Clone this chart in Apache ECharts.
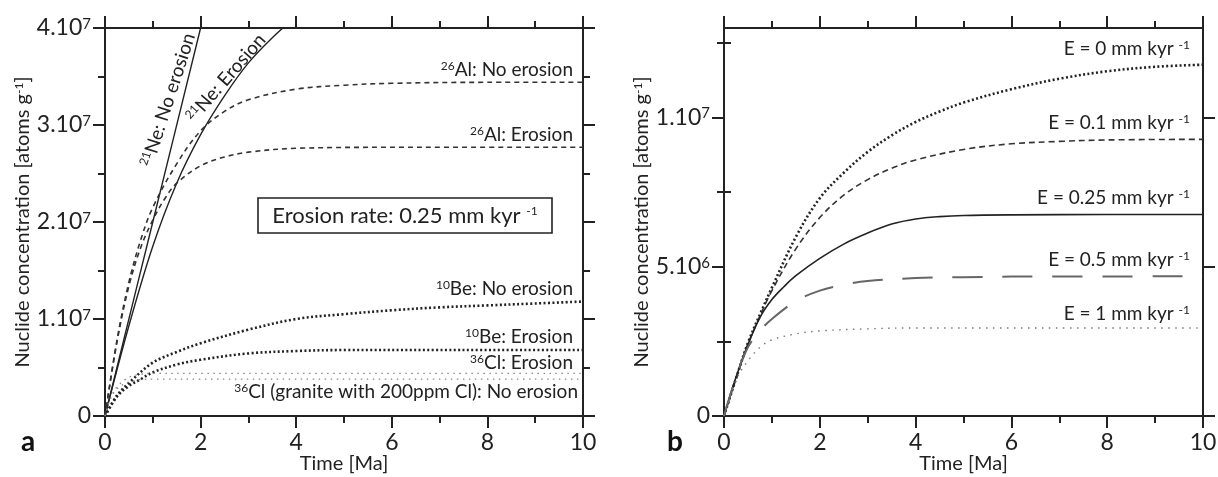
<!DOCTYPE html>
<html>
<head>
<meta charset="utf-8">
<script src="https://cdn.jsdelivr.net/npm/echarts@6/dist/echarts.min.js"></script>
<style>
  html, body { margin: 0; padding: 0; background: #fff; }
  #chart { width: 1218px; height: 477px; }
</style>
</head>
<body>
<div id="chart"></div>
<script>
// panel a: [time Ma, atoms/g]
const ne21NoErosion = [[0, 0], [1, 2.0e7], [2, 4.0e7]];
const ne21Erosion = [[0, 0], [0.5, 0.93e7], [1, 1.75e7], [1.5, 2.4e7], [2, 2.9e7], [2.5, 3.3e7], [3, 3.64e7], [3.5, 3.9e7], [4, 4.12e7]];
const al26NoErosion = [[0, 0], [0.25, 0.78e7], [0.5, 1.38e7], [0.75, 1.82e7], [1, 2.15e7], [1.5, 2.6e7], [2, 2.94e7], [2.5, 3.14e7], [3, 3.26e7], [4, 3.37e7], [5, 3.41e7], [6, 3.43e7], [8, 3.44e7], [10, 3.44e7]];
const al26Erosion = [[0, 0], [0.25, 0.76e7], [0.5, 1.34e7], [0.75, 1.74e7], [1, 2.02e7], [1.25, 2.24e7], [1.5, 2.4e7], [2, 2.58e7], [2.5, 2.67e7], [3, 2.72e7], [4, 2.76e7], [6, 2.77e7], [10, 2.77e7]];
const be10NoErosion = [[0, 0], [0.25, 0.21e7], [0.5, 0.34e7], [1, 0.55e7], [1.5, 0.66e7], [2, 0.75e7], [3, 0.89e7], [4, 1.0e7], [5, 1.05e7], [6, 1.09e7], [7, 1.12e7], [8, 1.14e7], [9, 1.16e7], [10, 1.18e7]];
const be10Erosion = [[0, 0], [0.25, 0.2e7], [0.5, 0.31e7], [0.75, 0.38e7], [1, 0.45e7], [1.5, 0.53e7], [2, 0.58e7], [3, 0.645e7], [4, 0.67e7], [5, 0.68e7], [7, 0.68e7], [10, 0.68e7]];
const cl36Erosion = [[0, 0], [0.1, 0.17e7], [0.25, 0.3e7], [0.5, 0.4e7], [0.75, 0.43e7], [1, 0.44e7], [2, 0.44e7], [4, 0.44e7], [10, 0.44e7]];
const cl36NoErosion = [[0, 0], [0.1, 0.16e7], [0.25, 0.28e7], [0.5, 0.35e7], [0.75, 0.375e7], [1, 0.38e7], [2, 0.38e7], [4, 0.38e7], [10, 0.38e7]];

// panel b: 10Be for several erosion rates
const erosion0 = [[0, 0], [0.25, 1.25e6], [0.5, 2.45e6], [0.75, 3.4e6], [1, 4.3e6], [1.5, 6.0e6], [2, 7.3e6], [2.5, 8.15e6], [3, 8.85e6], [3.5, 9.4e6], [4, 9.85e6], [4.5, 10.2e6], [5, 10.5e6], [6, 10.95e6], [7, 11.3e6], [8, 11.55e6], [9, 11.7e6], [10, 11.77e6]];
const erosion01 = [[0, 0], [0.25, 1.24e6], [0.5, 2.4e6], [0.75, 3.35e6], [1, 4.2e6], [1.5, 5.6e6], [2, 6.65e6], [2.5, 7.4e6], [3, 7.92e6], [3.5, 8.3e6], [4, 8.58e6], [5, 8.93e6], [6, 9.12e6], [7, 9.2e6], [8, 9.25e6], [10, 9.27e6]];
const erosion025 = [[0, 0], [0.25, 1.3e6], [0.5, 2.4e6], [0.75, 3.3e6], [1, 3.9e6], [1.25, 4.33e6], [1.5, 4.7e6], [2, 5.28e6], [2.5, 5.76e6], [3, 6.13e6], [3.5, 6.43e6], [4, 6.6e6], [4.5, 6.68e6], [5, 6.72e6], [6, 6.74e6], [8, 6.75e6], [10, 6.75e6]];
const erosion05 = [[0, 0], [0.25, 1.3e6], [0.5, 2.3e6], [0.75, 2.85e6], [1, 3.25e6], [1.5, 3.85e6], [2, 4.2e6], [2.5, 4.4e6], [3, 4.52e6], [4, 4.62e6], [5, 4.65e6], [6, 4.67e6], [10, 4.68e6]];
const erosion1 = [[0, 0], [0.25, 1.2e6], [0.5, 1.85e6], [0.75, 2.3e6], [1, 2.55e6], [1.5, 2.75e6], [2, 2.85e6], [3, 2.92e6], [4, 2.95e6], [6, 2.95e6], [10, 2.95e6]];

const yLabelsB = [0, 5e6, 1e7];
const yMinorB = [2.5e6, 7.5e6, 1.25e7];

const FONT = 'Lato, "Open Sans", sans-serif';
const INK = '#222';
const sup = { fontSize: 12, verticalAlign: 'top', fontFamily: FONT, color: INK };

function powLabel(v) {
  if (v === 0) return '0';
  const exp = Math.floor(Math.log10(v));
  const mant = Math.round(v / Math.pow(10, exp));
  return mant + '.10{s|' + exp + '}';
}

const axisLine = { onZero: false, lineStyle: { color: INK, width: 2 } };
const majorTick = { length: 12, lineStyle: { color: INK, width: 2 } };
const minorTick = { show: true, splitNumber: 2, length: 7, lineStyle: { color: INK, width: 2 } };

function xAxes(gridIndex) {
  const base = {
    type: 'value', gridIndex, min: 0, max: 10, interval: 2,
    axisLine, axisTick: majorTick, minorTick, splitLine: { show: false }
  };
  return [
    Object.assign({}, base, {
      position: 'bottom',
      axisLabel: { fontSize: 23, color: INK, fontFamily: FONT, margin: 15 },
      name: 'Time [Ma]', nameLocation: 'middle', nameGap: 38, nameMoveOverlap: false,
      nameTextStyle: { fontSize: 20, color: INK, fontFamily: FONT }
    }),
    Object.assign({}, base, { position: 'top', axisLabel: { show: false } })
  ];
}

const yName = {
  name: 'Nuclide concentration [atoms g{s|-1}]', nameLocation: 'middle',
  nameTextStyle: { fontSize: 20, color: INK, fontFamily: FONT, rich: { s: sup } }
};
const yLabelStyle = {
  fontSize: 23, color: INK, fontFamily: FONT, margin: 14,
  formatter: powLabel, rich: { s: { fontSize: 15, verticalAlign: 'top', fontFamily: FONT, color: INK } }
};

const yAxes = [
  // panel a
  Object.assign({
    type: 'value', gridIndex: 0, position: 'left', min: 0, max: 4e7, interval: 1e7,
    axisLine, axisTick: majorTick, minorTick, splitLine: { show: false },
    axisLabel: yLabelStyle, nameGap: 72
  }, yName),
  {
    type: 'value', gridIndex: 0, position: 'right', min: 0, max: 4e7, interval: 1e7,
    axisLine, axisTick: majorTick, minorTick, splitLine: { show: false }, axisLabel: { show: false }
  },
  // panel b
  Object.assign({
    type: 'value', gridIndex: 1, position: 'left', min: 0, max: 1.3e7,
    axisLine, splitLine: { show: false },
    axisTick: Object.assign({ customValues: yLabelsB }, majorTick),
    axisLabel: Object.assign({ customValues: yLabelsB }, yLabelStyle), nameGap: 66
  }, yName),
  {
    type: 'value', gridIndex: 1, position: 'left', min: 0, max: 1.3e7,
    axisLine: { show: false }, splitLine: { show: false }, axisLabel: { show: false },
    axisTick: { customValues: yMinorB, length: 7, lineStyle: { color: INK, width: 2 } }
  },
  {
    type: 'value', gridIndex: 1, position: 'right', min: 0, max: 1.3e7,
    axisLine, splitLine: { show: false }, axisLabel: { show: false },
    axisTick: Object.assign({ customValues: yLabelsB }, majorTick)
  },
  {
    type: 'value', gridIndex: 1, position: 'right', min: 0, max: 1.3e7,
    axisLine: { show: false }, splitLine: { show: false }, axisLabel: { show: false },
    axisTick: { customValues: yMinorB, length: 7, lineStyle: { color: INK, width: 2 } }
  }
];

function curve(data, xi, yi, style) {
  return {
    type: 'line', data, xAxisIndex: xi, yAxisIndex: yi,
    showSymbol: false, symbol: 'none', smooth: 0.35,
    silent: true, lineStyle: Object.assign({ color: INK, width: 1.4 }, style)
  };
}

const solid = { type: 'solid', width: 1.4 };
const dashed = { type: [5, 4], width: 1.6, color: '#333' };
const heavyDots = { type: [2, 2.4], width: 2.6, color: '#222' };
const greyDots = { type: [1.5, 4.5], width: 1.3, color: '#888' };

function annot(text, x, y, opts) {
  return Object.assign({
    type: 'text', x, y, silent: true,
    style: Object.assign({
      text, fontSize: 19, fontFamily: FONT, fill: INK,
      align: 'right', verticalAlign: 'middle', rich: { s: sup }
    }, opts && opts.style)
  }, opts && opts.el);
}

const chart = echarts.init(document.getElementById('chart'));
chart.setOption({
  animation: false,
  backgroundColor: '#fff',
  grid: [
    { left: 105, top: 28, width: 478, height: 388, outerBoundsMode: 'none' },
    { left: 724, top: 28, width: 479, height: 388, outerBoundsMode: 'none' }
  ],
  xAxis: xAxes(0).concat(xAxes(1)),
  yAxis: yAxes,
  series: [
    curve(ne21NoErosion, 0, 0, solid),
    curve(ne21Erosion, 0, 0, solid),
    curve(al26NoErosion, 0, 0, dashed),
    curve(al26Erosion, 0, 0, dashed),
    curve(be10NoErosion, 0, 0, heavyDots),
    curve(be10Erosion, 0, 0, heavyDots),
    curve(cl36Erosion, 0, 0, greyDots),
    curve(cl36NoErosion, 0, 0, greyDots),

    curve(erosion0, 2, 2, { type: [2, 2.4], width: 2.6, color: '#222' }),
    curve(erosion01, 2, 2, { type: [6, 4], width: 1.6, color: '#333' }),
    curve(erosion025, 2, 2, { type: 'solid', width: 1.6, color: '#222' }),
    curve(erosion05, 2, 2, { type: [30, 20], width: 2, color: '#666' }),
    curve(erosion1, 2, 2, { type: [1.5, 5.5], width: 1.4, color: '#777' })
  ],
  graphic: [
    annot('{s|21}Ne: No erosion', 168, 100, { style: { align: 'center' }, el: { rotation: 72 * Math.PI / 180 } }),
    annot('{s|21}Ne: Erosion', 226, 78, { style: { align: 'center' }, el: { rotation: 49 * Math.PI / 180 } }),
    annot('{s|26}Al: No erosion', 573, 70),
    annot('{s|26}Al: Erosion', 573, 135),
    annot('{s|10}Be: No erosion', 573, 289),
    annot('{s|10}Be: Erosion', 573, 337),
    annot('{s|36}Cl: Erosion', 573, 363),
    annot('{s|36}Cl (granite with 200ppm Cl): No erosion', 578, 392),
    {
      type: 'rect', silent: true,
      shape: { x: 258, y: 198, width: 294, height: 35 },
      style: { fill: '#fff', stroke: INK, lineWidth: 1.6 }
    },
    annot('Erosion rate: 0.25 mm kyr {s|-1}', 405, 216, { style: { align: 'center', fontSize: 22 } }),

    annot('E = 0 mm kyr {s|-1}', 1190, 49),
    annot('E = 0.1 mm kyr {s|-1}', 1190, 123),
    annot('E = 0.25 mm kyr {s|-1}', 1190, 198),
    annot('E = 0.5 mm kyr {s|-1}', 1190, 260),
    annot('E = 1 mm kyr {s|-1}', 1190, 314),

    annot('a', 28, 442, { style: { align: 'center', fontSize: 28, fontWeight: 'bold', fill: '#111' } }),
    annot('b', 675, 442, { style: { align: 'center', fontSize: 28, fontWeight: 'bold', fill: '#111' } })
  ]
});
</script>
</body>
</html>
